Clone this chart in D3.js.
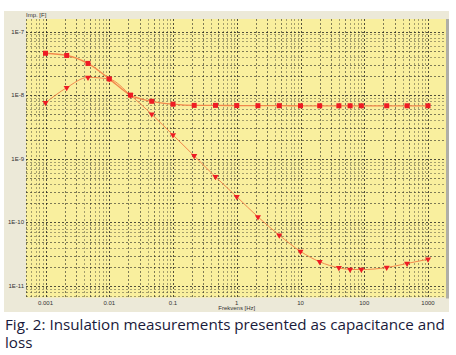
<!DOCTYPE html>
<html>
<head>
<meta charset="utf-8">
<script src="https://cdn.jsdelivr.net/npm/d3@7"></script>
<style>
  html, body { margin: 0; padding: 0; background: #ffffff; }
  svg { display: block; }
</style>
</head>
<body>
<svg id="chart" width="456" height="355"></svg>
<script>
// ---- data ----
const frequencies = [0.001, 0.00215, 0.00464, 0.01, 0.0215, 0.0464, 0.1, 0.215, 0.464, 1, 2.15, 4.64, 10, 20, 40, 60, 90, 225, 470, 1000];
const capacitance = [4.55e-8, 4.2e-8, 3.15e-8, 1.8e-8, 1.0e-8, 8.0e-9, 7.2e-9, 6.9e-9, 6.9e-9, 6.85e-9, 6.82e-9, 6.82e-9, 6.8e-9, 6.8e-9, 6.8e-9, 6.8e-9, 6.8e-9, 6.8e-9, 6.8e-9, 6.8e-9];
const loss = [7.6e-9, 1.31e-8, 1.9e-8, 1.79e-8, 1.0e-8, 5.0e-9, 2.36e-9, 1.11e-9, 5.2e-10, 2.53e-10, 1.22e-10, 6.3e-11, 3.5e-11, 2.4e-11, 1.93e-11, 1.82e-11, 1.81e-11, 1.95e-11, 2.26e-11, 2.63e-11];
const xTickValues = [0.001, 0.01, 0.1, 1, 10, 100, 1000];
const xTickLabels = ["0.001", "0.01", "0.1", "1", "10", "100", "1000"];
const yTickValues = [1e-7, 1e-8, 1e-9, 1e-10, 1e-11];
const yTickLabels = ["1E-7", "1E-8", "1E-9", "1E-10", "1E-11"];
const yTitle = "Imp. [F]";
const xTitle = "Frekvens [Hz]";
const captionLines = ["Fig. 2: Insulation measurements presented as capacitance and", "loss"];

// ---- layout ----
const svg = d3.select("#chart");
const panel = { x: 4, y: 11, w: 445, h: 301 };
const plot = { left: 26, right: 446, top: 19, bottom: 297.5 };

const x = d3.scaleLog().domain([0.001, 1000]).range([45.5, 428]);
const y = d3.scaleLog().domain([1e-11, 1e-7]).range([286, 31.5]);

// outer window panel
svg.append("rect").attr("x", panel.x).attr("y", panel.y).attr("width", panel.w).attr("height", panel.h)
  .attr("fill", "#ECE9D8");
// plot background
svg.append("rect").attr("x", plot.left).attr("y", plot.top)
  .attr("width", plot.right - plot.left).attr("height", plot.bottom - plot.top)
  .attr("fill", "#F9EF9E");
// right shadow border
svg.append("rect").attr("x", plot.right).attr("y", plot.top)
  .attr("width", 3).attr("height", plot.bottom - plot.top + 1)
  .attr("fill", "#B0AFA6");

svg.append("clipPath").attr("id", "clip").append("rect")
  .attr("x", plot.left).attr("y", plot.top)
  .attr("width", plot.right - plot.left).attr("height", plot.bottom - plot.top);

const g = svg.append("g").attr("clip-path", "url(#clip)");

// grid: log subdivisions
const xMin = x.invert(plot.left), xMax = x.invert(plot.right);
const yMin = y.invert(plot.bottom), yMax = y.invert(plot.top);
function logGrid(lo, hi) {
  const vals = [];
  for (let e = Math.floor(Math.log10(lo)); e <= Math.ceil(Math.log10(hi)); e++) {
    for (let m = 1; m <= 9; m++) {
      const v = m * Math.pow(10, e);
      if (v >= lo && v <= hi) vals.push({ v, m });
    }
  }
  return vals;
}
const op = d => d.m === 1 ? 0.75 : (d.m === 2 || d.m === 3 || d.m === 5) ? 0.55 : 0.38;
const grid = g.append("g");
grid.selectAll("line.vx").data(logGrid(xMin, xMax)).join("line")
  .attr("x1", d => Math.round(x(d.v)) + 0.5).attr("x2", d => Math.round(x(d.v)) + 0.5)
  .attr("y1", plot.top).attr("y2", plot.bottom)
  .attr("stroke", "#1a1a1a").attr("stroke-opacity", op)
  .attr("stroke-width", 1).attr("stroke-dasharray", "2,2");
grid.selectAll("line.hy").data(logGrid(yMin, yMax)).join("line")
  .attr("y1", d => Math.round(y(d.v)) + 0.5).attr("y2", d => Math.round(y(d.v)) + 0.5)
  .attr("x1", plot.left).attr("x2", plot.right)
  .attr("stroke", "#1a1a1a").attr("stroke-opacity", op)
  .attr("stroke-width", 1).attr("stroke-dasharray", "2,2");

// series
const capData = frequencies.map((f, i) => ({ f, v: capacitance[i] }));
const lossData = frequencies.map((f, i) => ({ f, v: loss[i] }));
const line = d3.line().x(d => x(d.f)).y(d => y(d.v)).curve(d3.curveMonotoneX);

g.append("path").datum(lossData).attr("d", line)
  .attr("fill", "none").attr("stroke", "#F2884C").attr("stroke-width", 1);
g.append("path").datum(capData).attr("d", line)
  .attr("fill", "none").attr("stroke", "#F2884C").attr("stroke-width", 1.3);

g.selectAll("path.tri").data(lossData).join("path")
  .attr("d", d3.symbol().type(d3.symbolTriangle).size(16))
  .attr("transform", d => `translate(${x(d.f)},${y(d.v)}) rotate(180)`)
  .attr("fill", "#EE1C24");
g.selectAll("rect.sq").data(capData).join("rect")
  .attr("x", d => x(d.f) - 2.5).attr("y", d => y(d.v) - 2.5)
  .attr("width", 5).attr("height", 5)
  .attr("fill", "#EE1C24");

// axis labels
const small = "'Liberation Sans', Arial, sans-serif";
svg.append("g").selectAll("text").data(yTickValues).join("text")
  .attr("x", 24).attr("y", d => y(d)).attr("dy", "0.35em")
  .attr("text-anchor", "end").attr("font-family", small).attr("font-size", 6)
  .attr("fill", "#333").text((d, i) => yTickLabels[i]);
svg.append("g").selectAll("text").data(xTickValues).join("text")
  .attr("x", d => x(d)).attr("y", 305)
  .attr("text-anchor", "middle").attr("font-family", small).attr("font-size", 6)
  .attr("fill", "#333").text((d, i) => xTickLabels[i]);
svg.append("text").attr("x", (x(1))).attr("y", 310)
  .attr("text-anchor", "middle").attr("font-family", small).attr("font-size", 6)
  .attr("fill", "#333").text(xTitle);
svg.append("text").attr("x", 26).attr("y", 17)
  .attr("font-family", small).attr("font-size", 6)
  .attr("fill", "#333").text(yTitle);

// caption
svg.append("g").selectAll("text").data(captionLines).join("text")
  .attr("x", 5).attr("y", (d, i) => 329.5 + i * 18)
  .attr("font-family", "'Open Sans', 'Noto Sans', sans-serif").attr("font-size", 15.2)
  .attr("fill", "#1a1a3a").text(d => d);
</script>
</body>
</html>
